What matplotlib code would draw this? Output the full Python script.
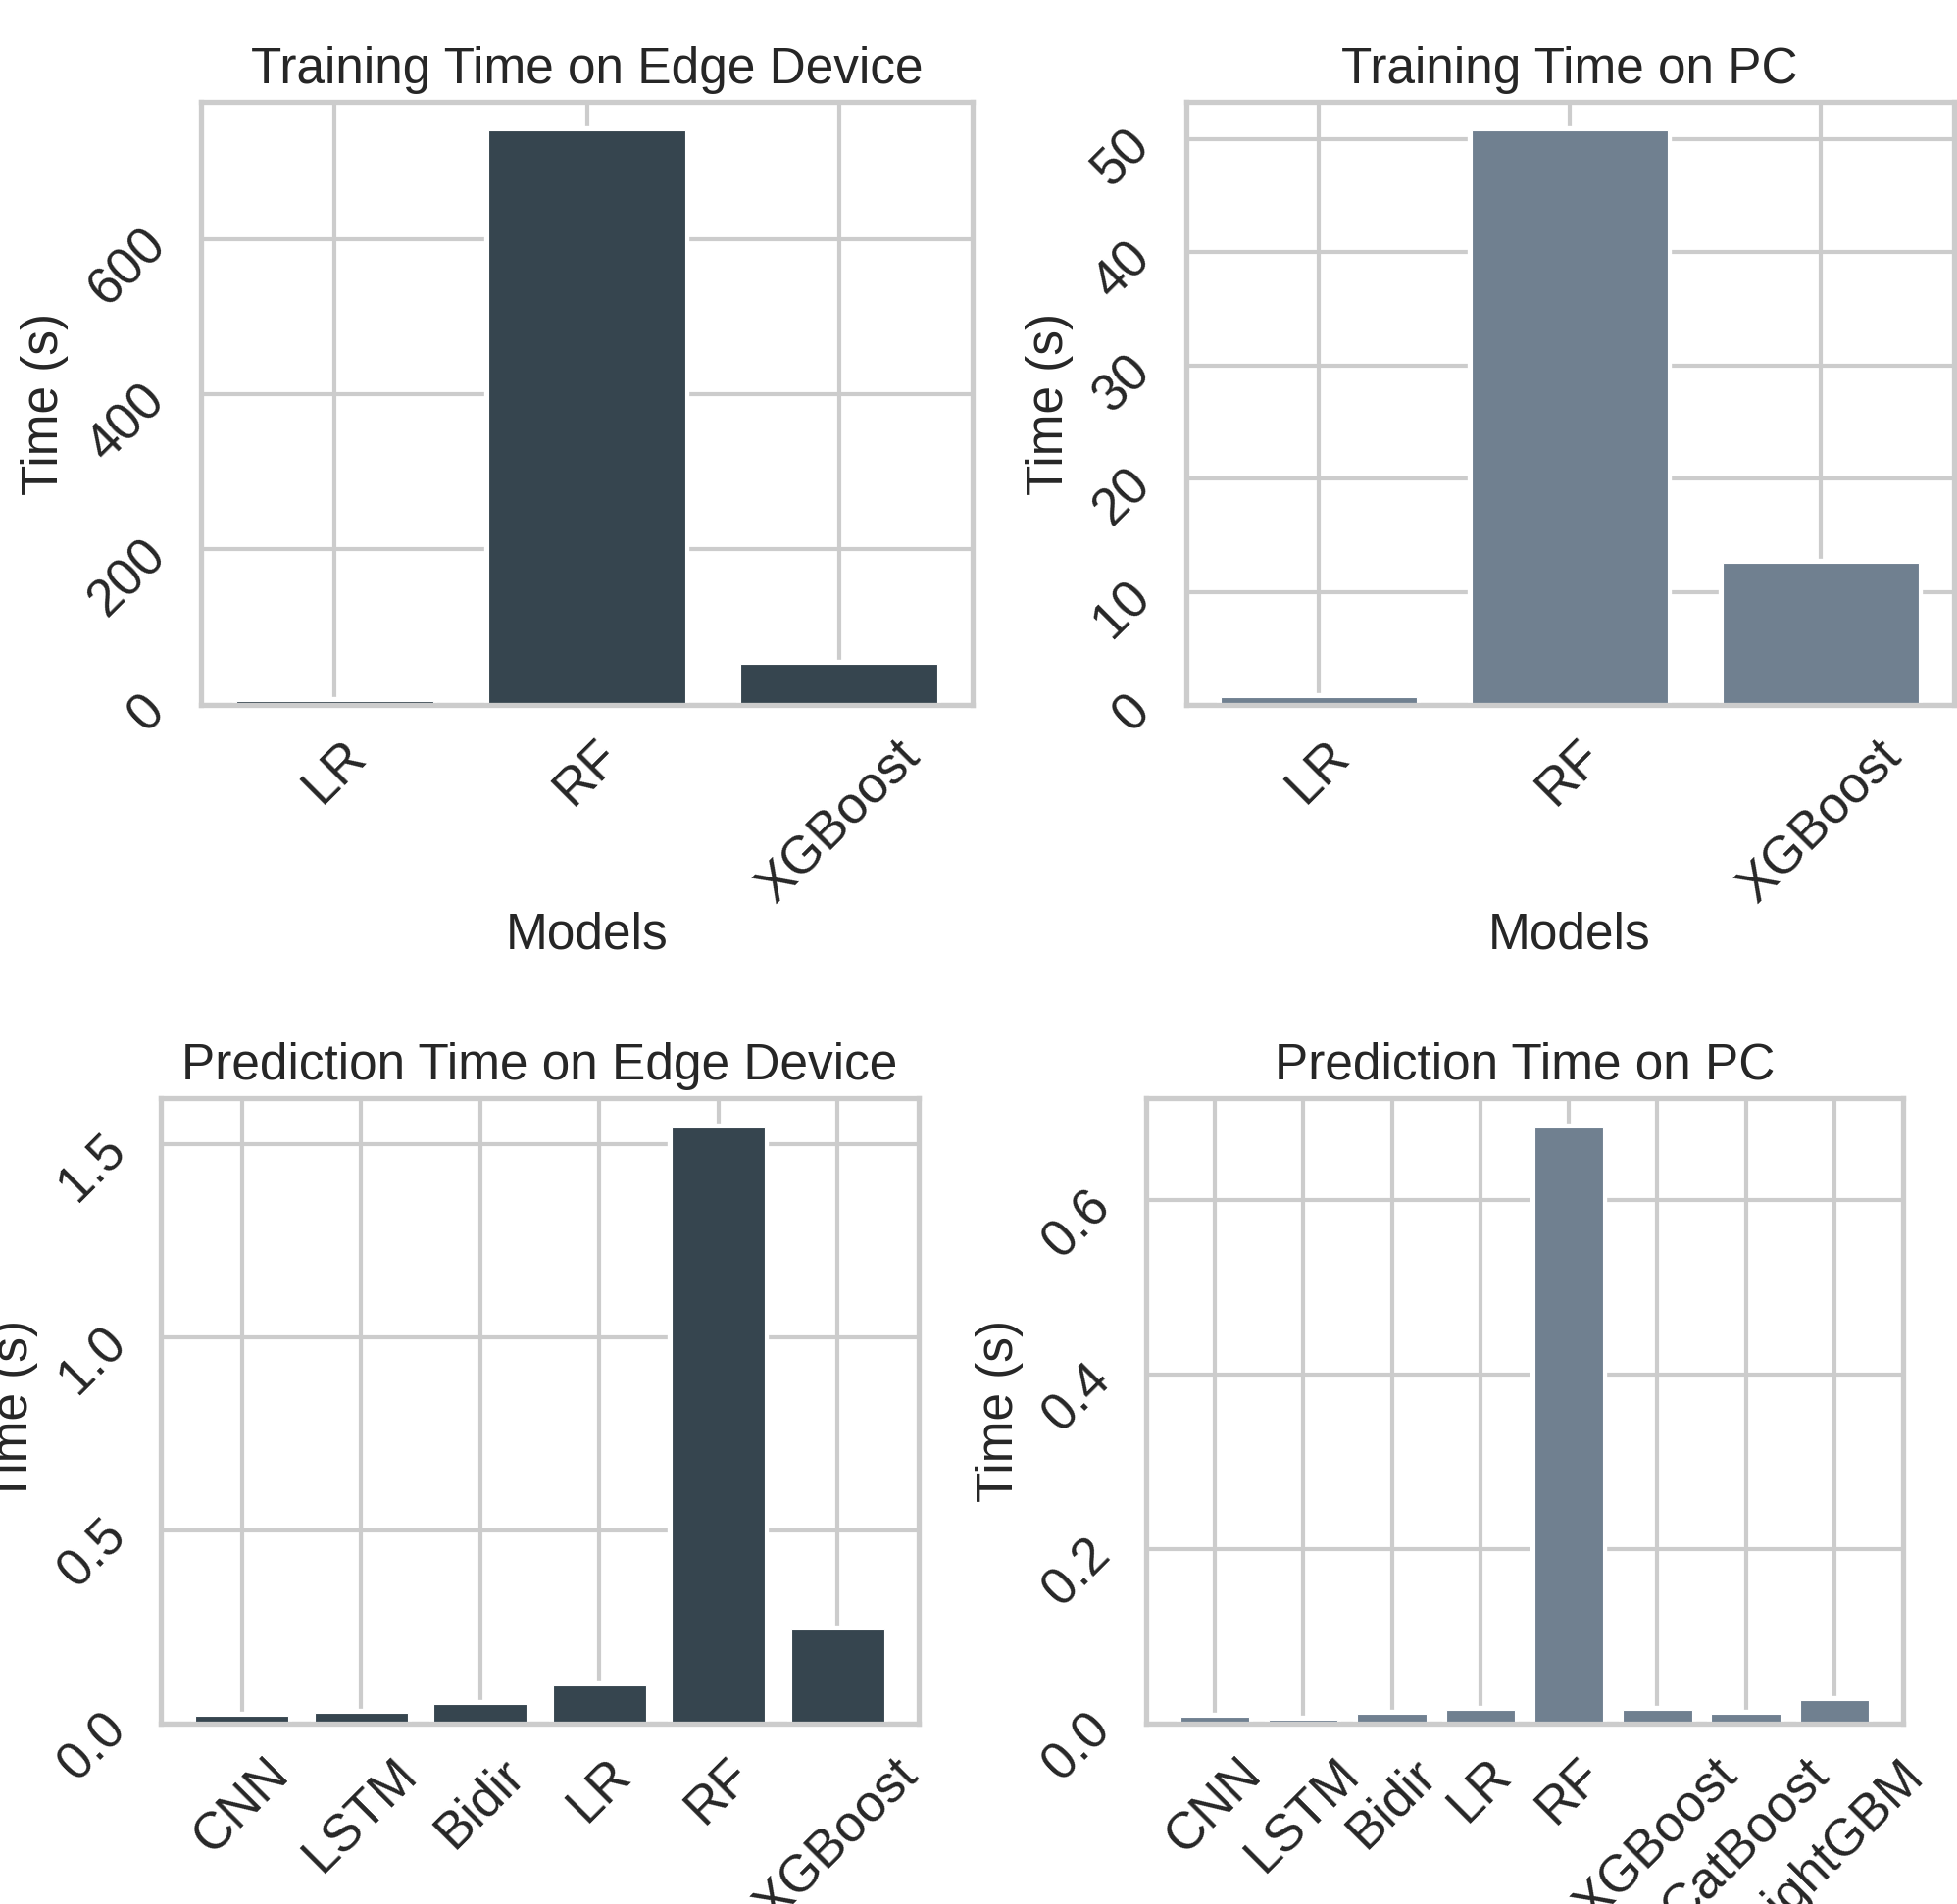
import matplotlib
matplotlib.use("Agg")
import matplotlib.pyplot as plt
import matplotlib.patheffects as pe
from matplotlib.ticker import MultipleLocator
import seaborn as sns

# timing results (seconds)
train_models = ["LR", "RF", "XGBoost"]
train_edge = [5.0, 739.0, 53.0]
train_pc = [0.71, 50.75, 12.55]

pred_edge_models = ["CNN", "LSTM", "Bidir", "LR", "RF", "XGBoost"]
pred_edge = [0.020, 0.028, 0.050, 0.098, 1.542, 0.243]

pred_pc_models = ["CNN", "LSTM", "Bidir", "LR", "RF", "XGBoost", "CatBoost", "LightGBM"]
pred_pc = [0.0082, 0.0050, 0.0115, 0.0158, 0.683, 0.0158, 0.0110, 0.0270]

edge_color = "#36454F"
pc_color = "#708090"

sns.set_theme(style="whitegrid")
plt.rcParams["font.family"] = ["Liberation Sans", "DejaVu Sans"]
plt.rcParams["axes.linewidth"] = 1.9
plt.rcParams["grid.linewidth"] = 1.5
plt.rcParams["axes.edgecolor"] = "#cccccc"

fig = plt.figure(figsize=(9.98, 9.71), dpi=200)

positions = [
    [0.1027, 0.6298, 0.3943, 0.3166],
    [0.6060, 0.6298, 0.3923, 0.3166],
    [0.0823, 0.0947, 0.3871, 0.3286],
    [0.5855, 0.0947, 0.3871, 0.3286],
]
panels = [
    (train_models, train_edge, edge_color, "Training Time on Edge Device", None),
    (train_models, train_pc, pc_color, "Training Time on PC", 10),
    (pred_edge_models, pred_edge, edge_color, "Prediction Time on Edge Device", None),
    (pred_pc_models, pred_pc, pc_color, "Prediction Time on PC", None),
]

# white halo around bars so the grid stops short of them
halo = [pe.Stroke(linewidth=3, foreground="white"), pe.Normal()]

for pos, (names, vals, color, title, ystep) in zip(positions, panels):
    ax = fig.add_axes(pos)
    bars = ax.bar(names, vals, width=0.78, color=color, edgecolor="white", linewidth=0.4)
    for b in bars:
        b.set_path_effects(halo)
    ax.set_title(title, fontsize=18.5, color="#262626", pad=7)
    ax.set_ylabel("Time (s)", fontsize=18.5, color="#262626")
    ax.set_xlabel("Models", fontsize=18.5, color="#262626", labelpad=0)
    ax.tick_params(axis="x", rotation=45, labelsize=19, colors="#262626")
    ax.tick_params(axis="y", rotation=45, labelsize=19, colors="#262626")
    if ystep:
        ax.yaxis.set_major_locator(MultipleLocator(ystep))
    ax.set_axisbelow(True)

fig.savefig("out.png", dpi=200)
